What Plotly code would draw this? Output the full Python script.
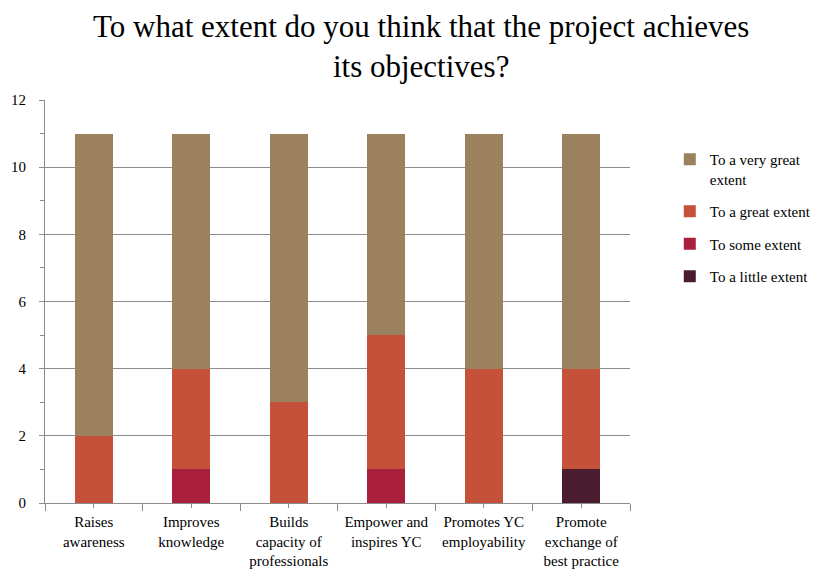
import plotly.graph_objects as go

categories = [
    "Raises<br>awareness",
    "Improves<br>knowledge",
    "Builds<br>capacity of<br>professionals",
    "Empower and<br>inspires YC",
    "Promotes YC<br>employability",
    "Promote<br>exchange of<br>best practice",
]
little_extent = [0, 0, 0, 0, 0, 1]
some_extent = [0, 1, 0, 1, 0, 0]
great_extent = [2, 3, 3, 4, 4, 3]
very_great_extent = [9, 7, 8, 6, 7, 7]

series = [
    ("To a little extent", little_extent, "#4A1C2F"),
    ("To some extent", some_extent, "#AA1F3B"),
    ("To a great extent", great_extent, "#C5513A"),
    ("To a very great<br>extent", very_great_extent, "#9B815D"),
]

FONT = "Liberation Serif, Times New Roman, serif"
AX = "#8c8c8c"

fig = go.Figure()
for i, (name, vals, color) in enumerate(series):
    fig.add_trace(go.Bar(
        x=categories, y=vals, name=name, marker_color=color,
        marker_line_width=0, legendgroup=str(i), legendrank=10 - i,
    ))

fig.update_layout(
    width=830, height=578,
    barmode="stack", bargap=0.61,
    plot_bgcolor="white", paper_bgcolor="white",
    font=dict(family=FONT, size=15, color="black"),
    margin=dict(l=37, r=208, t=92, b=83, autoexpand=False),
    legend=dict(
        x=1.068, xanchor="left", y=0.893, yanchor="top",
        traceorder="grouped", tracegroupgap=10,
        font=dict(family=FONT, size=15, color="black"),
        itemwidth=30, valign="top",
    ),
    showlegend=True,
    annotations=[dict(
        text="To what extent do you think that the project achieves<br>its objectives?",
        xref="paper", yref="paper", x=0.643, y=1.232,
        xanchor="center", yanchor="top", showarrow=False,
        font=dict(family=FONT, size=31, color="black"),
    )],
    xaxis2=dict(
        type="category", categoryarray=categories, range=[-0.5, 5.5],
        overlaying="x", anchor="y", side="bottom",
        showticklabels=False, ticks="outside", ticklen=4, tickcolor=AX,
        showline=False, showgrid=False, zeroline=False,
        tickvals=categories, automargin=False,
    ),
)
fig.layout.xaxis.update(
    showline=True, linecolor=AX, linewidth=1,
    ticks="outside", tickson="boundaries", ticklen=7, tickcolor=AX,
    tickfont=dict(family=FONT, size=15, color="black"),
    showgrid=False, range=[-0.5, 5.5], ticklabelstandoff=5, automargin=False,
)
fig.update_yaxes(
    range=[0, 12], dtick=2, tick0=0,
    showline=True, linecolor=AX, linewidth=1,
    ticks="outside", ticklen=5, tickcolor=AX,
    showgrid=True, gridcolor=AX, gridwidth=1,
    zeroline=False, ticklabelstandoff=10, automargin=False,
    tickfont=dict(family=FONT, size=15, color="black"),
    minor=dict(dtick=1, ticks="outside", ticklen=4, tickcolor=AX, showgrid=False),
)
# invisible trace to drive the secondary (tick-only) axis
fig.add_trace(go.Scatter(
    x=categories, y=[None] * len(categories), xaxis="x2",
    showlegend=False, hoverinfo="skip", mode="markers",
))

fig.write_html("out.html")
